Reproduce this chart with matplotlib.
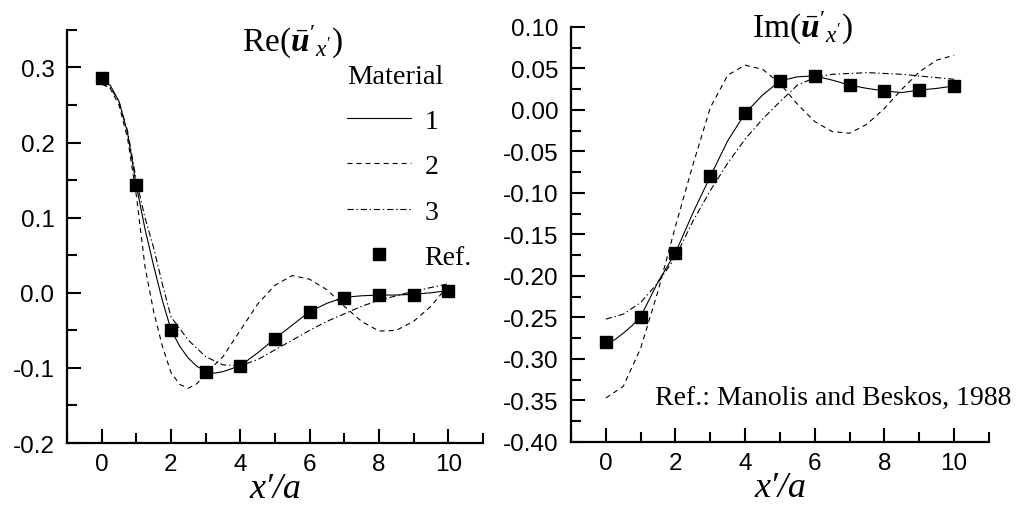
import numpy as np
import matplotlib
matplotlib.use('Agg')
import matplotlib.pyplot as plt
from matplotlib.lines import Line2D
from matplotlib.ticker import MultipleLocator, FormatStrFormatter

plt.rcParams.update({
    "font.family": ["Liberation Sans", "DejaVu Sans"],
    "mathtext.fontset": "custom",
    "mathtext.rm": "Liberation Serif",
    "mathtext.it": "Liberation Serif:italic",
    "mathtext.bf": "Liberation Serif:bold:italic",
    "lines.scale_dashes": False,
})

SERIF = ["Liberation Serif", "DejaVu Serif"]

# Ref. points (Manolis and Beskos, 1988)
x_ref = [0, 1, 2, 3, 4, 5, 6, 7, 8, 9, 10]
re_ref = [0.286, 0.143, -0.049, -0.105, -0.097, -0.061, -0.025, -0.007, -0.003, -0.003, 0.003]
im_ref = [-0.280, -0.249, -0.172, -0.080, -0.004, 0.035, 0.041, 0.030, 0.023, 0.024, 0.029]

# Re, material curves
x_re1 = [0, 0.25, 0.5, 0.75, 1, 1.25, 1.5, 1.75, 2, 2.25, 2.5, 2.75, 3, 3.25, 3.5, 4, 4.5, 5, 5.5, 6, 6.5, 7, 7.5, 8, 8.5, 9, 9.5, 10]
re_m1 = [0.285, 0.276, 0.255, 0.212, 0.143, 0.085, 0.036, -0.010, -0.049, -0.071, -0.087, -0.098, -0.104,
         -0.107, -0.105, -0.097, -0.080, -0.061, -0.043, -0.025, -0.014, -0.006, -0.004, -0.003, -0.003,
         -0.002, 0.000, 0.003]

x_re2 = [0, 0.25, 0.5, 0.75, 1, 1.25, 1.5, 1.75, 2, 2.25, 2.5, 2.75, 3, 3.5, 4, 4.5, 5, 5.5, 6, 6.5, 7, 7.5, 8, 8.5, 9, 9.5, 10]
re_m2 = [0.278, 0.272, 0.250, 0.205, 0.130, 0.035, -0.025, -0.071, -0.106, -0.122, -0.127, -0.121, -0.108,
         -0.085, -0.050, -0.015, 0.010, 0.023, 0.018, 0.004, -0.018, -0.038, -0.051, -0.050, -0.038, -0.018, 0.010]

x_re3 = [0, 0.25, 0.5, 0.75, 1, 1.25, 1.5, 1.75, 2, 2.5, 3, 3.5, 4, 4.5, 5, 5.5, 6, 6.5, 7, 7.5, 8, 8.5, 9, 9.5, 10]
re_m3 = [0.278, 0.273, 0.255, 0.215, 0.150, 0.100, 0.060, 0.012, -0.032, -0.063, -0.085, -0.096, -0.097,
         -0.089, -0.076, -0.063, -0.050, -0.038, -0.028, -0.018, -0.010, -0.004, 0.002, 0.007, 0.012]

# Im, material curves
x_im1 = [0, 0.25, 0.5, 0.75, 1, 1.5, 2, 2.5, 3, 3.5, 4, 4.5, 5, 5.5, 6, 6.5, 7, 7.5, 8, 8.5, 9, 9.5, 10]
im_m1 = [-0.280, -0.277, -0.269, -0.260, -0.249, -0.207, -0.172, -0.124, -0.080, -0.037, -0.004, 0.018,
         0.035, 0.040, 0.041, 0.036, 0.030, 0.026, 0.023, 0.021, 0.024, 0.026, 0.029]

x_im2 = [0, 0.5, 1, 1.5, 2, 2.5, 3, 3.5, 4, 4.5, 5, 5.5, 6, 6.5, 7, 7.5, 8, 8.5, 9, 9.5, 10]
im_m2 = [-0.347, -0.333, -0.287, -0.218, -0.140, -0.066, 0.003, 0.042, 0.054, 0.049, 0.032, 0.007,
         -0.014, -0.026, -0.028, -0.017, 0.002, 0.025, 0.046, 0.060, 0.066]

x_im3 = [0, 0.5, 1, 1.5, 2, 2.5, 3, 3.5, 4, 4.5, 5, 5.5, 6, 6.5, 7, 7.5, 8, 8.5, 9, 9.5, 10]
im_m3 = [-0.252, -0.246, -0.232, -0.208, -0.177, -0.134, -0.097, -0.064, -0.035, -0.011, 0.010, 0.030,
         0.039, 0.043, 0.044, 0.045, 0.044, 0.043, 0.041, 0.039, 0.037]

STY = {
    "1": dict(color="black", lw=0.8, ls="-"),
    "2": dict(color="black", lw=0.8, ls=(0, (3.6, 2.9))),
    "3": dict(color="black", lw=0.8, ls=(0, (4.5, 2, 1, 2))),
}
SQ = dict(ls="none", marker="s", ms=8.5, color="black")


def style_axes(ax, ylo, yhi, ymaj, ymin, fmt):
    ax.set_xlim(-1, 11)
    ax.set_ylim(ylo, yhi)
    for s in ("top", "right"):
        ax.spines[s].set_visible(False)
    for s in ("left", "bottom"):
        ax.spines[s].set_linewidth(1.6)
    ax.xaxis.set_major_locator(MultipleLocator(2))
    ax.xaxis.set_minor_locator(MultipleLocator(1))
    ax.yaxis.set_major_locator(MultipleLocator(ymaj))
    ax.yaxis.set_minor_locator(MultipleLocator(ymin))
    ax.yaxis.set_major_formatter(FormatStrFormatter(fmt))
    ax.tick_params(which="both", direction="in", width=1.5, labelsize=17.5)
    ax.tick_params(which="major", length=10)
    ax.tick_params(which="minor", length=7)
    ax.tick_params(axis="x", pad=7)
    ax.tick_params(axis="y", pad=9)
    ax.set_xlabel("x\u2032/a", family=SERIF, style="italic", fontsize=26, labelpad=-2)


fig = plt.figure(figsize=(10.18, 5.10), dpi=100)
ax1 = fig.add_axes([0.0658, 0.1294, 0.4086, 0.81])
ax2 = fig.add_axes([0.5609, 0.1314, 0.4106, 0.8137])

# left: real part
ax1.plot(x_re1, re_m1, **STY["1"])
ax1.plot(x_re2, re_m2, **STY["2"])
ax1.plot(x_re3, re_m3, **STY["3"])
ax1.plot(x_ref, re_ref, **SQ)
style_axes(ax1, -0.2, 0.35, 0.1, 0.05, "%.1f")
ax1.text(0.543, 0.973, r"Re$(\bar{\mathbf{u}}'_{x'})$", transform=ax1.transAxes,
         ha="center", va="center", family=SERIF, fontsize=24)

handles = [Line2D([], [], **STY["1"]), Line2D([], [], **STY["2"]),
           Line2D([], [], **STY["3"]), Line2D([], [], **SQ)]
leg = ax1.legend(handles, ["1", "2", "3", "Ref."], title="Material", loc="upper left",
                 bbox_to_anchor=(0.673, 0.918), frameon=False, borderpad=0, borderaxespad=0,
                 handlelength=2.3, handletextpad=0.5, labelspacing=0.72, alignment="left",
                 prop={"family": SERIF, "size": 20}, title_fontproperties={"family": SERIF, "size": 20.5})
leg._legend_box.sep = 14

# right: imaginary part
ax2.plot(x_im1, im_m1, **STY["1"])
ax2.plot(x_im2, im_m2, **STY["2"])
ax2.plot(x_im3, im_m3, **STY["3"])
ax2.plot(x_ref, im_ref, **SQ)
style_axes(ax2, -0.4, 0.1, 0.05, 0.025, "%.2f")
ax2.text(0.555, 1.0, r"Im$(\bar{\mathbf{u}}'_{x'})$", transform=ax2.transAxes,
         ha="center", va="center", family=SERIF, fontsize=24)
ax2.text(1.053, 0.092, "Ref.: Manolis and Beskos, 1988", transform=ax2.transAxes,
         ha="right", va="baseline", family=SERIF, fontsize=20, clip_on=False)

fig.savefig("out.png", dpi=100, facecolor="white")
